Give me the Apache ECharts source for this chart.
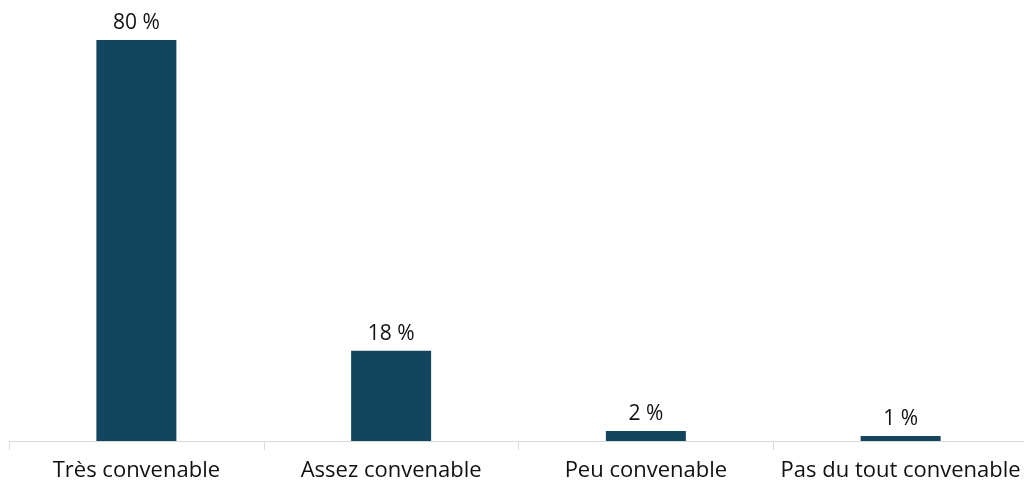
<!DOCTYPE html>
<html>
<head>
<meta charset="utf-8">
<script src="https://cdn.jsdelivr.net/npm/echarts@6/dist/echarts.min.js"></script>
<style>
  html, body { margin: 0; padding: 0; background: #ffffff; }
  #chart { width: 1024px; height: 489px; }
</style>
</head>
<body>
<div id="chart"></div>
<script>
// Réponses par niveau de convenance (en %)
const categories = ['Très convenable', 'Assez convenable', 'Peu convenable', 'Pas du tout convenable'];
const values = [80, 18, 2, 1];

const FONT = '"Open Sans", "Noto Sans", sans-serif';

const chart = echarts.init(document.getElementById('chart'));
chart.setOption({
  animation: false,
  grid: { left: 9, right: -4, top: 40, bottom: 48, containLabel: false, outerBoundsMode: 'none' },
  xAxis: {
    type: 'category',
    data: categories,
    axisLine: { lineStyle: { color: '#d9d9d9', width: 1 } },
    axisTick: { show: true, alignWithLabel: false, length: 9, lineStyle: { color: '#d9d9d9' } },
    axisLabel: { color: '#111111', fontFamily: FONT, fontSize: 22, margin: 19, interval: 0 }
  },
  yAxis: {
    type: 'value',
    min: 0,
    max: 80,
    show: false,
    splitLine: { show: false }
  },
  series: [{
    type: 'bar',
    data: values,
    barWidth: 80,
    itemStyle: { color: '#12465f' },
    label: {
      show: true,
      position: 'top',
      distance: 6,
      color: '#111111',
      fontFamily: FONT,
      fontSize: 21,
      formatter: p => p.value + ' %'
    }
  }]
});
</script>
</body>
</html>
